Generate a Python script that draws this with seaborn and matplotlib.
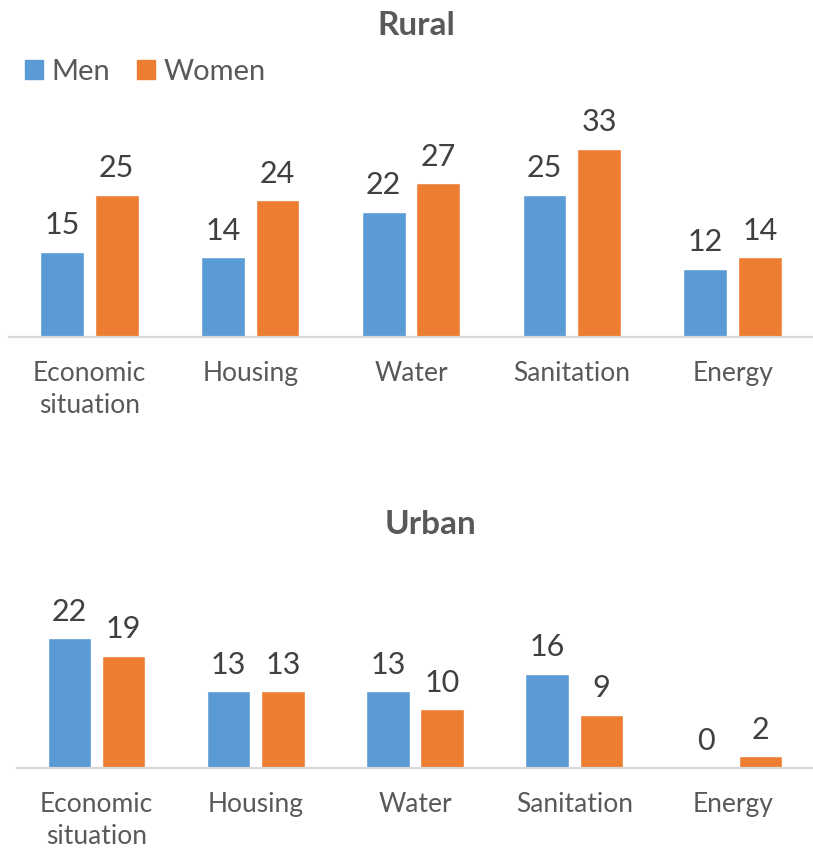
import numpy as np
import pandas as pd
import matplotlib
matplotlib.use("Agg")
import matplotlib.pyplot as plt
import seaborn as sns

# data
categories = ["Economic\nsituation", "Housing", "Water", "Sanitation", "Energy"]
groups = ["Men", "Women"]
rural_men = [15, 14, 22, 25, 12]
rural_women = [25, 24, 27, 33, 14]
urban_men = [22, 13, 13, 16, 0]
urban_women = [19, 13, 10, 9, 2]

colors = {"Men": "#5B9BD5", "Women": "#ED7D31"}

sns.set_theme(style="white")
plt.rcParams["font.family"] = ["Lato", "DejaVu Sans"]


def make_df(men, women):
    return pd.DataFrame({
        "category": categories * 2,
        "group": ["Men"] * len(categories) + ["Women"] * len(categories),
        "value": list(men) + list(women),
    })


W, H = 813, 850
fig = plt.figure(figsize=(W / 100, H / 100), dpi=100)

# axes placed in pixel terms: (left, baseline, right, height)
ax_top = fig.add_axes([9 / W, (H - 337) / H, (813 - 9) / W, 40 * 5.7 / H])
ax_bot = fig.add_axes([17 / W, (H - 768) / H, (813 - 17) / W, 25 * 5.9 / H])


def draw(ax, men, women, ymax):
    df = make_df(men, women)
    sns.barplot(data=df, x="category", y="value", hue="group", hue_order=groups,
                palette=colors, saturation=1, width=0.68, gap=0.2,
                legend=False, ax=ax)
    for cont in ax.containers:
        ax.bar_label(cont, padding=9, fontsize=22, color="#404040")
    ax.set_ylim(0, ymax)
    ax.set_xlim(-0.5, len(categories) - 0.5)
    ax.set_yticks([])
    ax.set_xlabel("")
    ax.set_ylabel("")
    for s in ["top", "left", "right"]:
        ax.spines[s].set_visible(False)
    ax.spines["bottom"].set_color("#D9D9D9")
    ax.spines["bottom"].set_linewidth(1.6)
    ax.tick_params(axis="x", length=0, pad=17, labelsize=19, labelcolor="#595959")
    for lbl in ax.get_xticklabels():
        lbl.set_linespacing(1.36)


draw(ax_top, rural_men, rural_women, 40)
draw(ax_bot, urban_men, urban_women, 25)

fig.text(416 / W, 1 - 35 / H, "Rural", ha="center", va="baseline",
         fontsize=24, fontweight="bold", color="#595959")
fig.text(430 / W, 1 - 534 / H, "Urban", ha="center", va="baseline",
         fontsize=24, fontweight="bold", color="#595959")

handles = [plt.Rectangle((0, 0), 1, 1, color=colors[g]) for g in groups]
fig.legend(handles, groups, loc="upper left", bbox_to_anchor=(25 / W, 1 - 59 / H),
           frameon=False, fontsize=21, labelcolor="#595959", ncol=2,
           handlelength=0.62, handleheight=0.62, handletextpad=0.3,
           columnspacing=0.9, borderpad=0, borderaxespad=0)

fig.savefig("out.png", dpi=100)
